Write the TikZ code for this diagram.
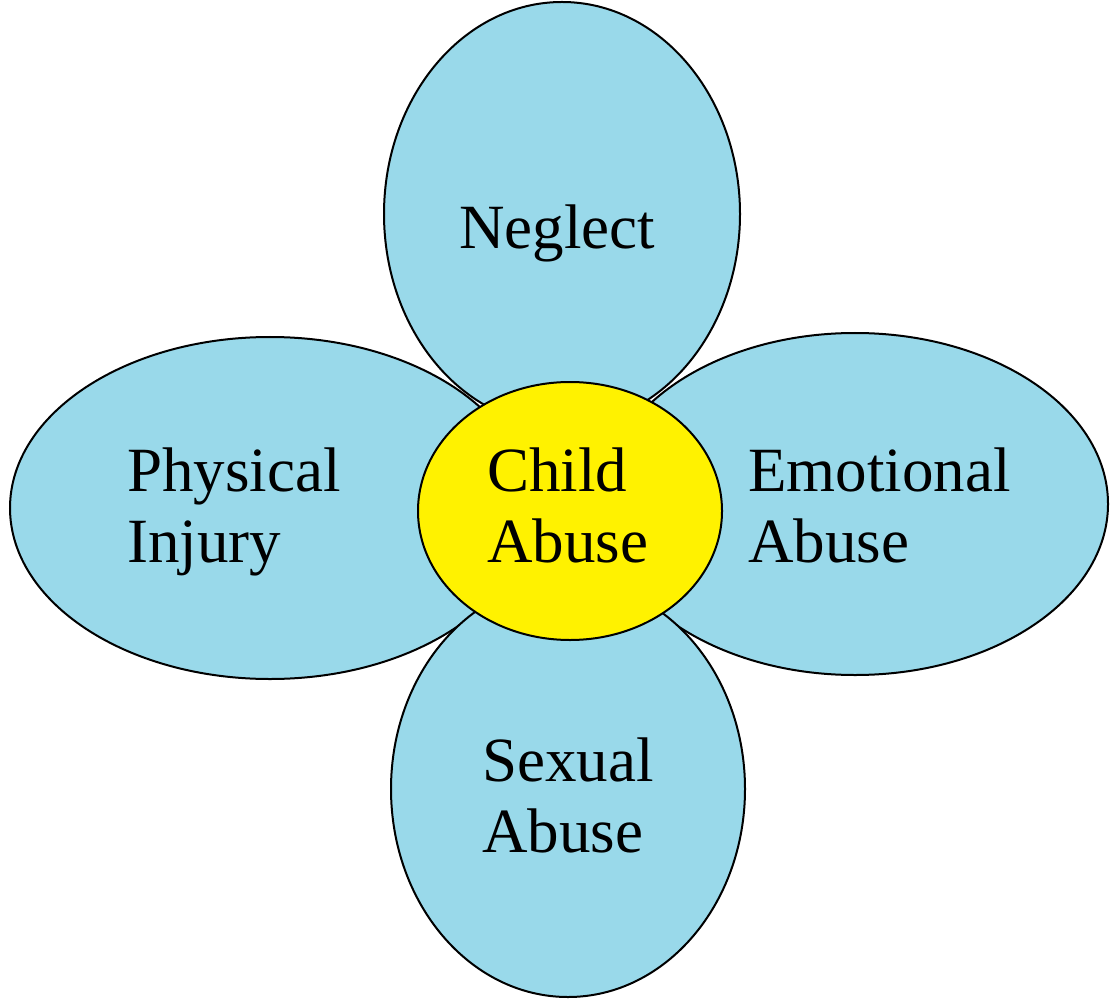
\documentclass[tikz,border=0pt]{standalone}
\usepackage{fontspec}
\setmainfont{Liberation Serif}
\usetikzlibrary{positioning}

\definecolor{petalblue}{RGB}{153,217,234}
\definecolor{centeryellow}{RGB}{255,242,0}

\tikzset{
    petal/.style={fill=petalblue, draw=black, line width=1pt},
    core/.style={fill=centeryellow, draw=black, line width=1pt},
    label/.style={font=\fontsize{31.5}{35.5}\selectfont, align=left, inner sep=0pt, anchor=west}
}

\begin{document}
\begin{tikzpicture}[x=0.5pt, y=-0.5pt]
    \useasboundingbox (0,0) rectangle (1111,999);

    % petalas
    \filldraw[petal] (562,214) ellipse [x radius=178, y radius=212];
    \filldraw[petal] (270,508) ellipse [x radius=260, y radius=171];
    \filldraw[petal] (855,504) ellipse [x radius=253, y radius=171];
    \filldraw[petal] (568,789) ellipse [x radius=177, y radius=208];

    % centro
    \filldraw[core] (570,511) ellipse [x radius=152, y radius=129];

    % textos
    \node[label, anchor=base west] (neglect) at (459,249) {Neglect};
    \node[label] (physical) at (127,512) {Physical\\Injury};
    \node[label] (child) at (487,505) {Child\\Abuse};
    \node[label] (emotional) at (748,505) {Emotional\\Abuse};
    \node[label] (sexual) at (482,795) {Sexual\\Abuse};

\end{tikzpicture}
\end{document}
